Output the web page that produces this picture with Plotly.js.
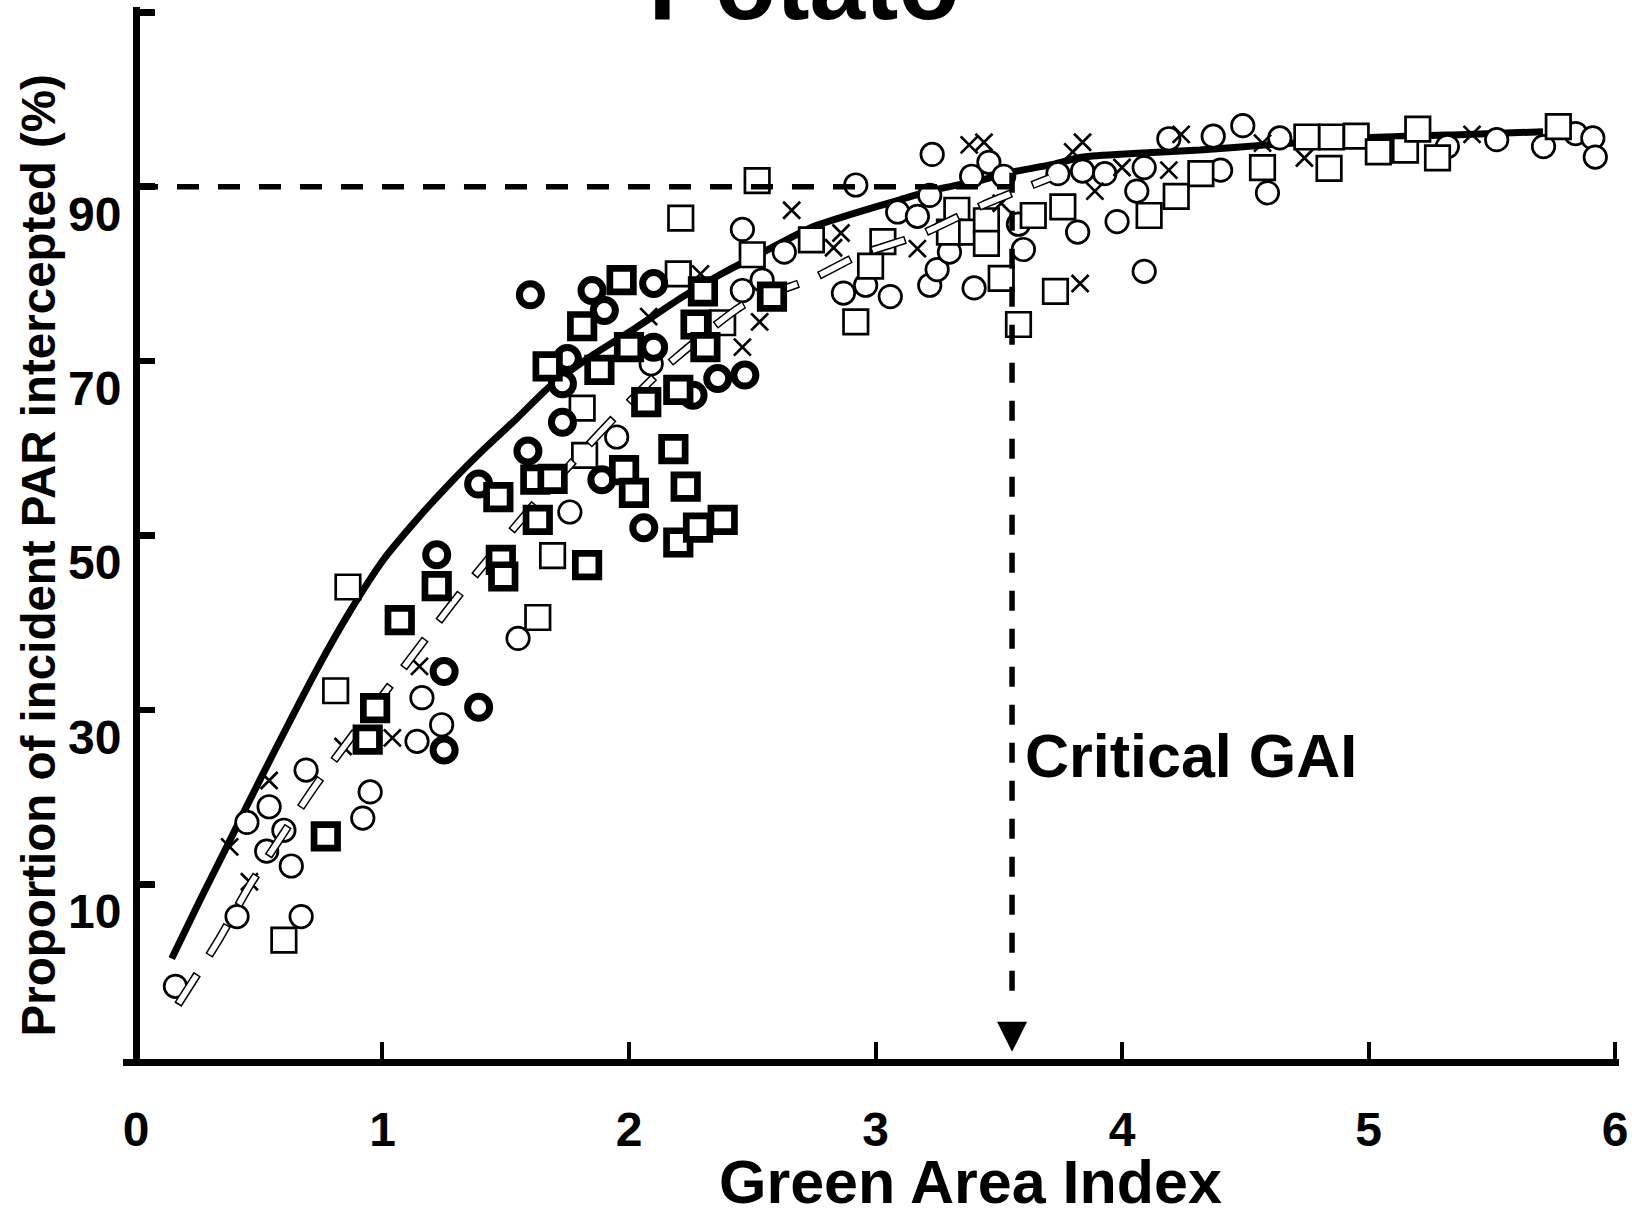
<!DOCTYPE html>
<html>
<head>
<meta charset="utf-8">
<script src="https://cdn.plot.ly/plotly-3.0.1.min.js"></script>
<style>
html, body { margin: 0; padding: 0; background: #fff; }
#chart { width: 1638px; height: 1208px; }
</style>
</head>
<body>
<div id="chart"></div>
<script>
// Fitted response of PAR interception to green area index (solid curve)
const fitGai = [0.145, 0.26, 0.368, 0.45, 0.557, 0.733, 0.868, 1.003, 1.138, 1.274, 1.408, 1.544, 1.679, 1.842, 2.016, 2.219, 2.381, 2.558, 2.746, 2.896, 3.099, 3.233, 3.436, 3.558, 3.708, 3.842, 4.045, 4.316, 4.588, 4.993, 5.398, 5.708];
const fitPar = [1.5, 8.2, 14.3, 19.0, 25.0, 34.6, 41.3, 47.2, 51.8, 56.0, 59.8, 63.4, 67.1, 70.5, 73.6, 77.4, 80.1, 82.7, 85.4, 86.8, 88.5, 89.6, 90.8, 91.7, 92.5, 93.4, 93.8, 94.2, 94.8, 95.6, 96.0, 96.3];

// Second fitted curve (hollow dashes)
const fit2Gai = [0.170, 0.337, 0.462, 0.730, 1.039, 1.314, 1.619, 1.963, 2.134, 2.462, 2.755, 2.937, 3.181, 3.436, 3.708];
const fit2Par = [-3.8, 3.7, 9.9, 21.4, 33.1, 43.3, 53.7, 64.2, 69.0, 76.4, 79.6, 82.2, 84.5, 87.9, 91.0];

// Observations: open circles
const circleGai = [0.16, 0.41, 0.45, 0.54, 0.53, 0.60, 0.63, 0.67, 0.69, 0.95, 0.92, 1.16, 1.14, 1.24, 1.55, 1.76, 1.95, 2.09, 2.46, 2.46, 2.54, 2.63, 2.87, 2.96, 3.06, 2.92, 3.09, 3.17, 3.22, 3.23, 3.22, 3.25, 3.30, 3.39, 3.46, 3.52, 3.40, 3.58, 3.60, 3.74, 3.82, 3.84, 3.93, 3.98, 4.06, 4.09, 4.09, 4.19, 4.37, 4.49, 4.40, 4.59, 4.64, 5.32, 5.52, 5.71, 5.84, 5.91, 5.92];
const circlePar = [-1.7, 6.3, 17.1, 18.9, 13.8, 16.2, 12.1, 6.3, 23.1, 20.6, 17.6, 31.4, 26.4, 28.3, 38.2, 52.7, 61.3, 69.7, 78.1, 85.1, 79.3, 82.5, 77.8, 78.7, 77.4, 90.2, 87.1, 86.6, 89.0, 93.7, 78.7, 80.5, 82.5, 91.2, 92.8, 91.2, 78.4, 85.7, 82.8, 91.5, 84.8, 91.8, 91.5, 86.0, 89.5, 92.2, 80.3, 95.5, 95.8, 97.0, 91.9, 89.3, 95.6, 94.6, 95.4, 94.6, 96.1, 95.6, 93.4];

// Observations: open squares
const squareGai = [0.60, 0.81, 0.86, 1.63, 1.69, 1.82, 1.81, 2.21, 2.20, 2.38, 2.50, 2.52, 2.74, 3.03, 2.98, 2.92, 3.33, 3.30, 3.39, 3.45, 3.45, 3.51, 3.58, 3.64, 3.76, 3.73, 4.11, 4.22, 4.32, 4.57, 4.75, 4.85, 4.84, 4.95, 5.04, 5.15, 5.20, 5.28, 5.77];
const squarePar = [3.6, 32.2, 44.1, 40.6, 47.7, 59.2, 64.6, 86.4, 80.0, 74.4, 82.2, 90.7, 83.9, 83.7, 80.9, 74.5, 87.3, 84.8, 84.8, 86.1, 83.5, 79.5, 74.2, 86.7, 87.7, 78.0, 86.7, 88.9, 91.5, 92.2, 95.7, 95.7, 92.1, 95.8, 94.0, 94.2, 96.6, 93.3, 96.9];

// Observations: crosses
const crossGai = [0.46, 0.38, 0.54, 0.84, 1.04, 1.15, 2.08, 2.29, 2.46, 2.53, 2.66, 2.86, 2.83, 3.17, 3.38, 3.44, 3.51, 3.83, 3.80, 3.84, 3.89, 4.00, 4.19, 4.24, 4.57, 4.74, 5.42];
const crossPar = [10.3, 14.3, 21.9, 25.8, 26.8, 35.0, 75.1, 80.0, 71.6, 74.5, 87.3, 84.7, 83.0, 82.9, 94.8, 95.1, 88.1, 78.9, 94.0, 95.1, 89.5, 92.2, 91.9, 96.0, 95.0, 93.3, 96.0];

// Observations: bold circles
const boldCircleGai = [1.25, 1.25, 1.39, 1.22, 1.39, 1.59, 1.60, 1.73, 1.73, 1.75, 1.85, 1.90, 1.89, 2.06, 2.10, 2.10, 2.26, 2.36, 2.47];
const boldCirclePar = [34.4, 25.4, 30.3, 47.8, 55.9, 59.7, 77.6, 63.0, 67.4, 70.3, 78.1, 75.8, 56.4, 50.9, 78.9, 71.6, 66.1, 68.0, 68.4];

// Observations: bold squares
const boldSquareGai = [0.77, 0.94, 0.97, 1.07, 1.22, 1.47, 1.48, 1.49, 1.62, 1.69, 1.63, 1.67, 1.81, 1.88, 1.97, 2.00, 1.98, 2.02, 1.83, 2.07, 2.18, 2.20, 2.20, 2.23, 2.28, 2.38, 2.27, 2.30, 2.31, 2.58];
const boldSquarePar = [15.5, 26.6, 30.2, 40.3, 44.2, 54.4, 47.2, 45.3, 56.4, 56.5, 51.8, 69.4, 74.0, 69.0, 79.3, 71.6, 57.5, 54.9, 46.6, 65.3, 59.9, 66.7, 49.2, 55.6, 50.9, 51.8, 74.2, 78.0, 71.6, 77.4];

// Critical GAI guide
const criticalGai = 3.554;
const targetPar = 90;
const guideTop = 91.6;
const guideBottom = -4.2;
const arrowTip = -9.2;

// Axis ticks
const xTickVals = [0, 1, 2, 3, 4, 5, 6];
const xTickText = ['0', '1', '2', '3', '4', '5', '6'];
const yTickVals = [10, 30, 50, 70, 90, 110];
const yTickText = ['10', '30', '50', '70', '90', ''];

const FONT = 'Liberation Sans, Arial, Helvetica, sans-serif';
const black = '#000000';

function markerTrace(x, y, symbol, size, lineWidth) {
  return {
    type: 'scatter', mode: 'markers', x: x, y: y, cliponaxis: false,
    marker: { symbol: symbol, size: size, color: '#ffffff',
              line: { color: black, width: lineWidth } },
    hoverinfo: 'x+y'
  };
}

const traces = [
  { type: 'scatter', mode: 'lines', x: fitGai, y: fitPar,
    line: { color: black, width: 7, shape: 'spline', smoothing: 0.6 }, hoverinfo: 'skip' },
  markerTrace(circleGai, circlePar, 'circle', 22.5, 2.7),
  markerTrace(squareGai, squarePar, 'square', 24.5, 2.7),
  { type: 'scatter', mode: 'markers', x: crossGai, y: crossPar, cliponaxis: false,
    marker: { symbol: 'x-thin', size: 17, color: black, line: { color: black, width: 2.7 } } },
  { type: 'scatter', mode: 'lines', x: fit2Gai, y: fit2Par,
    line: { color: black, width: 8.5, dash: '36px,22px', shape: 'spline', smoothing: 0.6 }, hoverinfo: 'skip' },
  { type: 'scatter', mode: 'lines', x: fit2Gai, y: fit2Par,
    line: { color: '#ffffff', width: 5.5, dash: '0px,1.5px,33px,23.5px', shape: 'spline', smoothing: 0.6 }, hoverinfo: 'skip' },
  markerTrace(boldCircleGai, boldCirclePar, 'circle', 22, 7),
  markerTrace(boldSquareGai, boldSquarePar, 'square', 23.5, 6.7),
  { type: 'scatter', mode: 'lines', x: [0, criticalGai], y: [targetPar, targetPar],
    line: { color: black, width: 5.5, dash: '22px,19px' }, hoverinfo: 'skip' },
  { type: 'scatter', mode: 'lines', x: [criticalGai, criticalGai], y: [guideTop, guideBottom],
    line: { color: black, width: 5.5, dash: '20px,18px' }, hoverinfo: 'skip' }
];

const layout = {
  width: 1638, height: 1208,
  margin: { l: 123, r: 19, t: 7, b: 149 },
  paper_bgcolor: '#ffffff', plot_bgcolor: '#ffffff',
  showlegend: false,
  font: { family: FONT, color: black },
  title: {
    text: 'Potato',
    font: { family: FONT, size: 100, weight: 'bold', color: black },
    xref: 'container', x: 0.4908, xanchor: 'center',
    yref: 'container', y: 0.9843, yanchor: 'bottom'
  },
  xaxis: {
    range: [-0.0527, 6.0162],
    showline: true, linewidth: 7, linecolor: black,
    ticks: 'inside', ticklen: 17, tickwidth: 4, tickcolor: black,
    tickmode: 'array', tickvals: xTickVals, ticktext: xTickText,
    tickfont: { family: FONT, size: 48, weight: 'bold', color: black },
    ticklabelstandoff: 22,
    showgrid: false, zeroline: false
  },
  yaxis: {
    range: [-10.03, 110.61],
    anchor: 'free', position: 0.0087,
    showline: true, linewidth: 6.5, linecolor: black,
    ticks: 'inside', ticklen: 15, tickwidth: 6.5, tickcolor: black,
    tickmode: 'array', tickvals: yTickVals, ticktext: yTickText,
    tickfont: { family: FONT, size: 48, weight: 'bold', color: black },
    ticklabelshift: 27, ticklabelstandoff: 2,
    showgrid: false, zeroline: false
  },
  annotations: [
    { text: 'Proportion of incident PAR intercepted (%)', textangle: -90,
      xref: 'paper', yref: 'paper', x: -0.0566, y: 0.479,
      xanchor: 'center', yanchor: 'middle', showarrow: false,
      font: { family: FONT, size: 47.5, weight: 'bold', color: black } },
    { text: 'Green Area Index', xref: 'paper', yref: 'paper', x: 0.5668, y: -0.117,
      xanchor: 'center', yanchor: 'middle', showarrow: false,
      font: { family: FONT, size: 61, weight: 'bold', color: black } },
    { text: 'Critical GAI', xref: 'x', yref: 'y', x: 3.60, y: 24.7,
      xanchor: 'left', yanchor: 'middle', showarrow: false,
      font: { family: FONT, size: 61, weight: 'bold', color: black } },
    { text: '', xref: 'x', yref: 'y', x: criticalGai, y: arrowTip,
      ax: 0, ay: -30, showarrow: true, arrowhead: 2, arrowwidth: 5.5, arrowsize: 1.09,
      arrowcolor: black, standoff: 0 }
  ]
};

Plotly.newPlot('chart', traces, layout, { displayModeBar: false, staticPlot: true });
</script>
</body>
</html>
